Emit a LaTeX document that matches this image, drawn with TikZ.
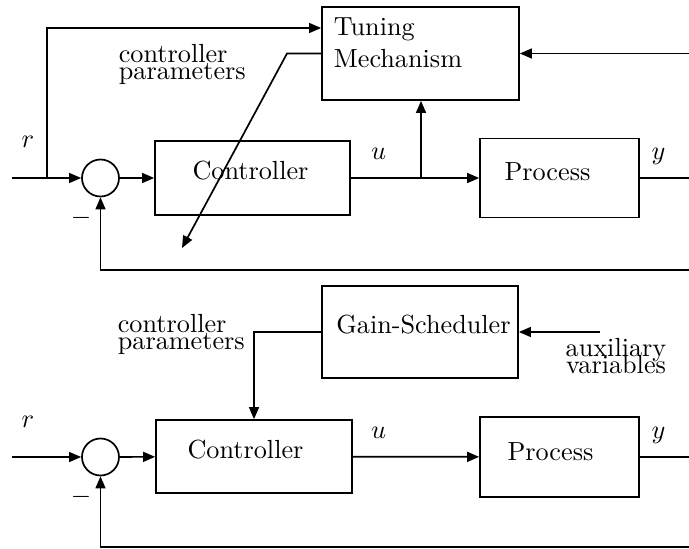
\documentclass[tikz,border=0pt]{standalone}
\usetikzlibrary{arrows.meta}
\begin{document}
\begin{tikzpicture}[x=0.3817pt,y=-0.3817pt,
  line width=0.65pt,
  box/.style={draw, line width=0.65pt, inner sep=0pt},
  sz/.style 2 args={minimum width={#1*0.3817pt}, minimum height={#2*0.3817pt}},
  sumnode/.style={draw, circle, inner sep=0pt, minimum size={37*0.3817pt}},
  txt/.style={inner sep=0pt},
  arr/.style={-{Triangle[length=4.6pt,width=3.8pt]}}]
\useasboundingbox (0,0) rectangle (689,549);

% ---------------- top: adaptive ----------------
\node[box, sz={197}{93}] (tune) at (420.5,53.5) {};
\node[txt, anchor=north west, align=left] (tunetxt) at (333,17) {Tuning\\Mechanism};
\node[sumnode] (s1) at (100.5,178) {};
\node[box, sz={195}{74}] (ctrl1) at (252.5,178) {};
\node[txt, anchor=base] (ctrl1txt) at (250.5,179.5) {Controller};
\node[box, sz={159}{79}] (proc1) at (559.5,178) {};
\node[txt, anchor=base] (proc1txt) at (547.5,180) {Process};

\coordinate (in1) at (12,178);
\coordinate (a1) at (47,178);
\coordinate (a2) at (47,28);
\coordinate (b1) at (421,178);
\coordinate (out1) at (689,178);
\coordinate (ym1) at (689,53.5);
\coordinate (fb1) at (689,270);
\coordinate (d1) at (287,53.5);
\coordinate (d2) at (182,248);

\draw[arr] (in1) -- (s1);
\draw[arr] (a1) -- (a2) -- (a2 -| tune.west);
\draw[arr] (s1) -- (ctrl1);
\draw[arr] (ctrl1) -- (proc1);
\draw[arr] (b1) -- (b1 |- tune.south);
\draw (proc1) -- (out1);
\draw[arr] (ym1) -- (tune.east);
\draw[arr] (fb1) -- (fb1 -| s1) -- (s1.south);
\draw[arr] (tune.west) -- (d1) -- (d2);

\node[txt, anchor=base] (r1) at (28,147) {$r$};
\node[txt, anchor=base] (u1) at (378.5,160) {$u$};
\node[txt, anchor=base] (y1) at (658.5,160) {$y$};
\node[txt] (m1) at (81,218) {$-$};
\node[txt, anchor=north west, align=left] (cp1) at (118,43.5) {controller\\[-5.5pt]parameters};

% ---------------- bottom: gain scheduling ----------------
\node[box, sz={196}{92}] (gain) at (420,332) {};
\node[txt, anchor=base] (gaintxt) at (423.5,333) {Gain-Scheduler};
\node[sumnode] (s2) at (100.5,457) {};
\node[box, sz={196}{73}] (ctrl2) at (254,456.5) {};
\node[txt, anchor=base] (ctrl2txt) at (245.5,458.5) {Controller};
\node[box, sz={159}{80}] (proc2) at (559.5,457) {};
\node[txt, anchor=base] (proc2txt) at (550.5,460) {Process};

\coordinate (in2) at (12,457);
\coordinate (aux) at (600,332);
\coordinate (c1) at (254,332);
\coordinate (out2) at (689,457);
\coordinate (fb2) at (689,547);

\draw[arr] (in2) -- (s2);
\draw[arr] (s2) -- (ctrl2);
\draw[arr] (ctrl2) -- (proc2);
\draw (proc2) -- (out2);
\draw[arr] (aux) -- (gain.east);
\draw[arr] (gain.west) -- (c1) -- (c1 |- ctrl2.north);
\draw[arr] (fb2) -- (fb2 -| s2) -- (s2.south);

\node[txt, anchor=base] (r2) at (28,427) {$r$};
\node[txt, anchor=base] (u2) at (378.5,438) {$u$};
\node[txt, anchor=base] (y2) at (658.5,438) {$y$};
\node[txt] (m2) at (81,497) {$-$};
\node[txt, anchor=north west, align=left] (cp2) at (117,313.5) {controller\\[-5.4pt]parameters};
\node[txt, anchor=north, align=center] (auxtxt) at (616,337) {auxiliary\\[-5.4pt]variables};
\end{tikzpicture}
\end{document}
